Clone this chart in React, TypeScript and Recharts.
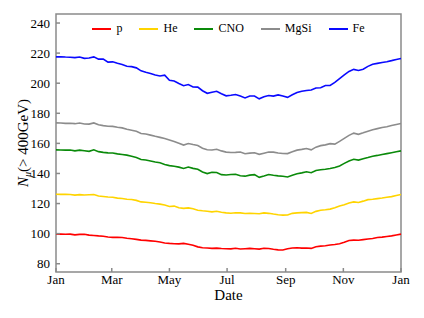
import React from "react";
import { LineChart, Line, XAxis, YAxis, Legend, ReferenceArea } from "recharts";

const days = [0,5,10,15,20,25,30,35,40,45,50,55,60,65,70,75,80,85,90,95,100,105,110,115,120,125,130,135,140,145,150,155,160,165,170,175,180,185,190,195,200,205,210,215,220,225,230,235,240,245,250,255,260,265,270,275,280,285,290,295,300,305,310,315,320,325,330,335,340,345,350,355,360,365];

const pVals = [99.8,99.7,99.6,99.7,99.2,99.5,99.6,99.0,98.8,98.5,98.3,97.8,97.5,97.6,97.4,96.9,96.6,96.2,95.7,95.5,95.2,94.9,94.4,93.8,93.5,93.3,93.2,93.5,93.0,92.3,91.2,90.6,90.5,90.2,90.4,90.1,90.0,89.9,90.3,89.8,90.0,90.2,90.0,89.7,90.3,90.1,89.6,89.2,89.1,90.0,90.5,90.6,90.4,90.5,90.2,91.3,91.7,92.0,92.4,92.8,93.3,94.2,95.4,95.7,95.6,96.0,96.4,96.8,97.4,97.7,98.1,98.5,99.1,99.7];

const heVals = [126.2,126.1,126.2,126.0,125.6,125.9,125.7,125.9,126.0,125.0,124.7,124.4,124.2,123.6,123.4,122.9,122.7,122.1,121.1,120.9,120.5,120.0,119.6,119.0,118.0,118.3,117.2,116.8,117.1,116.5,115.6,115.2,114.9,114.5,114.9,114.2,113.8,113.6,113.9,113.8,113.4,113.6,113.4,113.2,113.8,113.5,113.0,112.6,112.3,112.4,113.5,113.8,114.0,114.1,113.4,114.8,115.6,115.9,116.3,117.2,118.4,119.2,120.4,121.1,120.7,121.6,122.6,122.9,123.3,123.7,124.2,124.6,125.3,126.0];

const cnoVals = [155.7,155.6,155.5,155.6,155.0,155.5,155.1,154.7,155.7,154.5,154.0,153.7,153.6,153.0,152.6,152.2,151.4,150.6,149.3,148.9,148.3,147.6,147.1,146.0,145.2,144.8,144.2,143.3,144.3,143.4,142.8,141.0,139.9,140.8,140.6,139.2,139.0,139.3,139.5,138.5,138.2,138.9,139.2,137.4,138.3,139.3,138.8,138.4,138.1,137.7,138.8,139.8,140.4,141.1,140.5,142.0,142.5,142.8,143.3,143.9,145.0,146.7,148.3,149.4,148.9,149.8,150.6,151.5,152.0,152.6,153.2,153.8,154.4,155.0];

const mgsiVals = [173.6,173.5,173.3,173.4,173.1,173.5,172.9,172.8,173.6,172.4,171.8,171.4,171.3,170.7,170.3,169.4,168.7,168.0,166.6,166.2,165.5,164.7,164.0,163.2,162.2,161.2,160.1,158.9,159.9,159.2,158.6,156.8,155.8,155.6,156.1,155.0,154.2,153.9,154.0,154.3,153.1,153.5,153.8,152.7,153.5,154.3,154.2,153.6,153.3,153.2,154.5,155.5,156.0,156.6,155.7,157.5,158.5,159.0,159.8,159.5,161.3,163.3,165.3,166.8,166.0,167.0,168.1,169.1,169.8,170.5,171.1,171.9,172.6,173.2];

const feVals = [217.5,217.6,217.4,217.3,217.0,217.4,216.5,216.8,217.5,216.0,216.1,214.0,214.2,213.2,212.4,211.3,211.0,210.2,208.2,207.3,206.5,205.5,204.8,205.3,202.0,201.5,199.8,198.3,199.1,197.5,197.4,195.0,193.3,194.0,194.6,193.0,191.6,192.0,192.5,191.5,190.2,191.5,191.5,189.6,191.0,191.8,191.4,192.2,191.5,190.6,192.3,193.8,194.6,195.2,195.5,196.8,197.0,198.5,198.5,200.5,203.0,205.5,207.8,209.2,208.5,209.3,211.2,212.6,213.2,213.8,214.3,215.0,215.8,216.4];

const seriesNames = ["p", "He", "CNO", "MgSi", "Fe"];
const seriesKeys = ["p", "he", "cno", "mgsi", "fe"];
const seriesColors = ["#ff0000", "#ffd400", "#0a8a0a", "#8c8c8c", "#0a0aff"];

const monthTicks = [0, 59, 120, 181, 243, 304, 365];
const monthLabels = ["Jan", "Mar", "May", "Jul", "Sep", "Nov", "Jan"];
const yTicks = [80, 100, 120, 140, 160, 180, 200, 220, 240];
const yDomain = [74.5, 246];

const data = days.map((d, i) => ({
  day: d,
  p: pVals[i],
  he: heVals[i],
  cno: cnoVals[i],
  mgsi: mgsiVals[i],
  fe: feVals[i],
}));

const FONT = "'Liberation Serif', 'Times New Roman', serif";
const AXIS_COLOR = "#8a8a8a";
const Y_TICK_MARGIN = 6;
const X_TICK_MARGIN = 3;

const YTick = (props: any) => {
  const { x, y, payload } = props;
  return (
    <g>
      <line x1={x + Y_TICK_MARGIN} x2={x + Y_TICK_MARGIN + 4} y1={y} y2={y} stroke={AXIS_COLOR} strokeWidth={1.5} />
      <text x={x} y={y} dy="0.35em" textAnchor="end" fontSize={13} fill="#000" fontFamily={FONT}>
        {payload.value}
      </text>
    </g>
  );
};

const XTick = (props: any) => {
  const { x, y, payload } = props;
  const idx = monthTicks.indexOf(payload.value);
  return (
    <g>
      <line x1={x} x2={x} y1={y - X_TICK_MARGIN} y2={y - X_TICK_MARGIN - 4} stroke={AXIS_COLOR} strokeWidth={1.5} />
      <text x={x} y={y} dy="0.71em" textAnchor="middle" fontSize={13} fill="#000" fontFamily={FONT}>
        {idx >= 0 ? monthLabels[idx] : ""}
      </text>
    </g>
  );
};

const YLabel = (props: any) => {
  const vb = props.viewBox || {};
  const cx = vb.x + 28;
  const cy = vb.y + vb.height / 2;
  return (
    <text x={cx} y={cy} transform={`rotate(-90, ${cx}, ${cy})`} textAnchor="middle" fontSize={15} fill="#000" fontFamily={FONT}>
      <tspan fontStyle="italic">N</tspan>
      <tspan fontStyle="italic" fontSize={10} dy={3}>μ</tspan>
      <tspan dy={-3}>(&gt; 400GeV)</tspan>
    </text>
  );
};

const XLabel = (props: any) => {
  const vb = props.viewBox || {};
  return (
    <text x={vb.x + vb.width / 2} y={vb.y + 27.5} textAnchor="middle" fontSize={15} fill="#000" fontFamily={FONT}>
      Date
    </text>
  );
};

const LegendContent = () => (
  <div style={{ display: "flex", justifyContent: "center", fontFamily: FONT, fontSize: 12, lineHeight: "14px", color: "#000" }}>
    {seriesNames.map((n, i) => (
      <div key={n} style={{ display: "flex", alignItems: "flex-start", height: 14, marginLeft: i === 0 ? 0 : 17 }}>
        <svg width={19} height={14} style={{ marginRight: 5, display: "block" }}>
          <line x1={0} x2={19} y1={8} y2={8} stroke={seriesColors[i]} strokeWidth={2} />
        </svg>
        <span>{n}</span>
      </div>
    ))}
  </div>
);

export default function App() {
  return (
    <div style={{ position: "absolute", left: 0, top: 0, background: "#fff" }}>
      <LineChart width={424} height={318} data={data} margin={{ top: 14, right: 23, bottom: 0, left: 0 }}>
        <XAxis
          dataKey="day"
          type="number"
          domain={[0, 365]}
          ticks={monthTicks}
          interval={0}
          axisLine={false}
          tickLine={false}
          tickSize={0}
          tickMargin={X_TICK_MARGIN}
          tick={<XTick />}
          height={46}
          label={{ content: <XLabel /> }}
        />
        <YAxis
          type="number"
          domain={yDomain}
          allowDataOverflow
          ticks={yTicks}
          interval={0}
          axisLine={false}
          tickLine={false}
          tickSize={0}
          tickMargin={Y_TICK_MARGIN}
          tick={<YTick />}
          width={56}
          label={{ content: <YLabel /> }}
        />
        <ReferenceArea x1={0} x2={365} y1={yDomain[0]} y2={yDomain[1]} fill="none" stroke={AXIS_COLOR} strokeWidth={1.5} fillOpacity={0} ifOverflow="visible" />
        {seriesKeys.map((k, i) => (
          <Line
            key={k}
            dataKey={k}
            name={seriesNames[i]}
            stroke={seriesColors[i]}
            strokeWidth={1.6}
            dot={false}
            type="linear"
            isAnimationActive={false}
          />
        ))}
        <Legend
          layout="horizontal"
          verticalAlign="middle"
          align="center"
          content={<LegendContent />}
          wrapperStyle={{ top: 21, left: 56, width: 345, height: 14 }}
        />
      </LineChart>
    </div>
  );
}
